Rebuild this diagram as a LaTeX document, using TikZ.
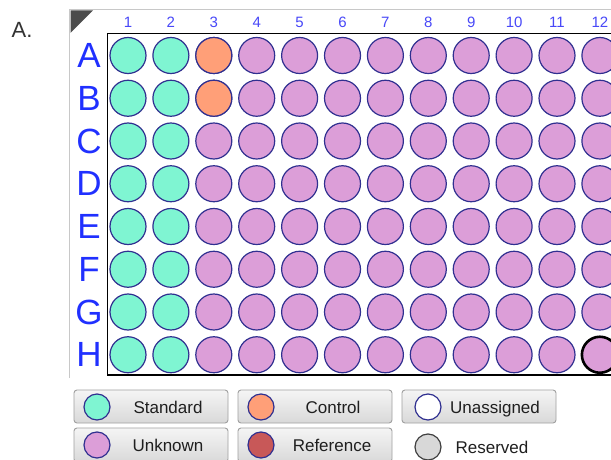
\documentclass[tikz,border=0pt]{standalone}
\usepackage{fontspec}
\setmainfont{Liberation Sans}
\definecolor{stdc}{HTML}{7FF5D2}
\definecolor{ctlc}{HTML}{FF9F78}
\definecolor{unkc}{HTML}{DC9ED8}
\definecolor{refc}{HTML}{C85858}
\definecolor{resc}{HTML}{D8D8D8}
\definecolor{wellb}{HTML}{303090}
\definecolor{rowlab}{HTML}{2030FF}
\definecolor{collab}{HTML}{4848F8}
\definecolor{panelg}{HTML}{C8C8C8}
\definecolor{btnb}{HTML}{A0A0A0}
\tikzset{
  well/.style={circle, draw=wellb, line width=1.2pt, minimum size=36pt, inner sep=0pt},
  lwell/.style={circle, draw=wellb, line width=1.2pt, minimum size=26pt, inner sep=0pt},
  rowl/.style={font=\fontsize{35}{35}\selectfont, text=rowlab, inner sep=0pt},
  coll/.style={font=\fontsize{15}{15}\selectfont, text=collab, inner sep=0pt},
  btn/.style={draw=btnb, line width=0.9pt, rounded corners=3pt, top color=white!96!black, bottom color=white!85!black},
  ltext/.style={font=\fontsize{17}{17}\selectfont, text=black!88, inner sep=0pt, anchor=base}
}
\begin{document}
\begin{tikzpicture}[x=1pt,y=-1pt]
\useasboundingbox (0,0) rectangle (611,460);
\fill[white] (0,0) rectangle (611,460);
% label A.
\node[font=\fontsize{22}{22}\selectfont, text=black!80, inner sep=0pt] (lbl) at (22,30) {A.};
% panel
\draw[panelg, line width=1.2pt] (69.5,378) -- (69.5,9.5) -- (611,9.5);
\fill[black!70] (70.5,10.5) -- (93,10.5) -- (70.5,33) -- cycle;
\draw[black, line width=1.4pt] (611,33.5) -- (107.5,33.5) -- (107.5,375) -- (611,375);
% column labels
\foreach \j in {1,...,12} {
  \node[coll] (c\j) at ({128+42.9*(\j-1)},22) {\j};
}
% row labels and wells
\foreach \r [count=\i] in {A,B,C,D,E,F,G,H} {
  \node[rowl] (r\r) at (89,{55.5+42.75*(\i-1)}) {\r};
  \foreach \j in {1,...,12} {
    \pgfmathsetmacro{\xx}{128+42.9*(\j-1)}
    \pgfmathsetmacro{\yy}{55.5+42.75*(\i-1)}
    \ifnum\j<3
      \node[well, fill=stdc] (w\r\j) at (\xx,\yy) {};
    \else
      \node[well, fill=unkc] (w\r\j) at (\xx,\yy) {};
    \fi
  }
}
\node[well, fill=ctlc] (wA3x) at (wA3) {};
\node[well, fill=ctlc] (wB3x) at (wB3) {};
\node[well, fill=unkc, draw=black, line width=2.6pt] (wH12x) at (wH12) {};
% legend buttons
\draw[btn] (74,390) rectangle (228,423);
\draw[btn] (238,390) rectangle (392,423);
\draw[btn] (402,390) rectangle (556,423);
\draw[btn] (74,428) rectangle (228,462);
\draw[btn] (238,428) rectangle (392,462);
\node[lwell, fill=stdc] (ls) at (97,407) {};
\node[ltext] (ts) at (168,413) {Standard};
\node[lwell, fill=ctlc] (lc) at (261,407) {};
\node[ltext] (tc) at (333,413) {Control};
\node[lwell, fill=white] (lu) at (428,407) {};
\node[ltext] (tu) at (495,413) {Unassigned};
\node[lwell, fill=unkc] (lk) at (97,445) {};
\node[ltext] (tk) at (168,451) {Unknown};
\node[lwell, fill=refc] (lr) at (261,445) {};
\node[ltext] (tr) at (332,451) {Reference};
\node[lwell, fill=resc, draw=black!75] (lv) at (428,447) {};
\node[ltext] (tv) at (492,453) {Reserved};
\end{tikzpicture}
\end{document}
